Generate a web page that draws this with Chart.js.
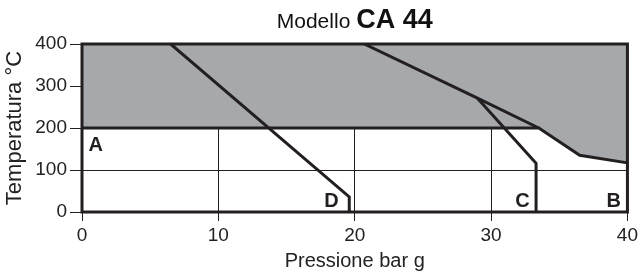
<!DOCTYPE html>
<html>
<head>
<meta charset="utf-8">
<script src="https://cdn.jsdelivr.net/npm/chart.js@4/dist/chart.umd.min.js"></script>
<style>
  html, body { margin: 0; padding: 0; background: #fff; }
  #wrap { width: 641px; height: 277px; position: relative; }
</style>
</head>
<body>
<div id="wrap"><canvas id="myChart"></canvas></div>
<script>
// limits (pressure bar g, temperature °C)
var limitP = [0, 33.5, 36.5, 40];
var limitT = [200, 200, 135, 117];

var upperP = [20.7, 29.0, 33.5];
var upperT = [400, 271, 200];

var lineCP = [29.0, 33.3, 33.3];
var lineCT = [271, 116, 0];

var lineDP = [6.5, 19.6, 19.6];
var lineDT = [400, 36, 0];

var xTicks = [0, 10, 20, 30, 40];
var yTicks = [0, 100, 200, 300, 400];

// curve letters and where they sit
var letters = ['A', 'D', 'C', 'B'];
var letterP = [1.0, 18.3, 32.3, 39.0];
var letterT = [159, 24, 24, 24];

var ink = '#231f20';
var FONT = 'Liberation Sans, Arial, Helvetica, sans-serif';

function pts(xs, ys) {
    return xs.map(function (v, i) { return { x: v, y: ys[i] }; });
}

var extras = {
    id: 'extras',
    afterDatasetsDraw: function (chart) {
        var c = chart.ctx, a = chart.chartArea;
        var sx = chart.scales.x, sy = chart.scales.y;
        c.save();
        // frame
        c.strokeStyle = ink;
        c.lineWidth = 3;
        c.strokeRect(a.left, a.top, a.right - a.left, a.bottom - a.top);
        // letters
        c.fillStyle = ink;
        c.font = 'bold 20px ' + FONT;
        c.textAlign = 'center';
        c.textBaseline = 'middle';
        letters.forEach(function (t, i) {
            c.fillText(t, sx.getPixelForValue(letterP[i]), sy.getPixelForValue(letterT[i]));
        });
        // title: Modello CA 44
        var f1 = '21px ' + FONT, f2 = 'bold 27px ' + FONT;
        c.font = f1;
        var w1 = c.measureText('Modello ').width;
        c.font = f2;
        var w2 = c.measureText('CA 44').width;
        var x0 = (a.left + a.right) / 2 - (w1 + w2) / 2;
        c.textAlign = 'left';
        c.textBaseline = 'alphabetic';
        c.fillStyle = '#111';
        c.font = f1;
        c.fillText('Modello ', x0, 28);
        c.font = f2;
        c.fillText('CA 44', x0 + w1, 28);
        c.restore();
    }
};

var ctx = document.getElementById('myChart');
var myChart = new Chart(ctx, {
    type: 'line',
    data: {
        datasets: [{
                // shaded area above the limit
                data: pts(limitP, limitT),
                fill: 'end',
                backgroundColor: '#a7a8ab',
                borderColor: ink,
                borderWidth: 3
            }, {
                data: pts(upperP, upperT),
                fill: false,
                borderColor: ink,
                borderWidth: 3
            }, {
                data: pts(lineCP, lineCT),
                fill: false,
                borderColor: ink,
                borderWidth: 3
            }, {
                data: pts(lineDP, lineDT),
                fill: false,
                borderColor: ink,
                borderWidth: 3
            }
        ]
    },
    options: {
        responsive: true,
        maintainAspectRatio: false,
        animation: false,
        events: [],
        layout: { padding: { top: 44, right: 13, left: 0, bottom: 0 } },
        elements: {
            point: { radius: 0 },
            line: { tension: 0, borderJoinStyle: 'miter' }
        },
        plugins: {
            legend: { display: false },
            tooltip: { enabled: false },
            title: { display: false },
            filler: { drawTime: 'beforeDatasetsDraw' }
        },
        scales: {
            x: {
                type: 'linear',
                min: 0, max: 40,
                afterBuildTicks: function (s) { s.ticks = xTicks.map(function (v) { return { value: v }; }); },
                afterFit: function (s) { s.height = 65; },
                grid: { color: ink, lineWidth: 1, tickLength: 9, drawTicks: true },
                border: { display: false },
                ticks: { color: '#222', font: { family: FONT, size: 19 }, padding: 3, maxRotation: 0 },
                title: { display: true, text: 'Pressione bar g', color: '#222', font: { family: FONT, size: 20 } }
            },
            y: {
                type: 'linear',
                min: 0, max: 400,
                afterBuildTicks: function (s) { s.ticks = yTicks.map(function (v) { return { value: v }; }); },
                afterFit: function (s) { s.width = 82; },
                grid: { color: ink, lineWidth: 1, tickLength: 12, drawTicks: true },
                border: { display: false },
                ticks: { color: '#222', font: { family: FONT, size: 19 }, padding: 3 },
                title: { display: true, text: 'Temperatura °C', color: '#222', font: { family: FONT, size: 22 }, padding: { top: 2, bottom: 2 } }
            }
        }
    },
    plugins: [extras]
});
</script>
</body>
</html>
